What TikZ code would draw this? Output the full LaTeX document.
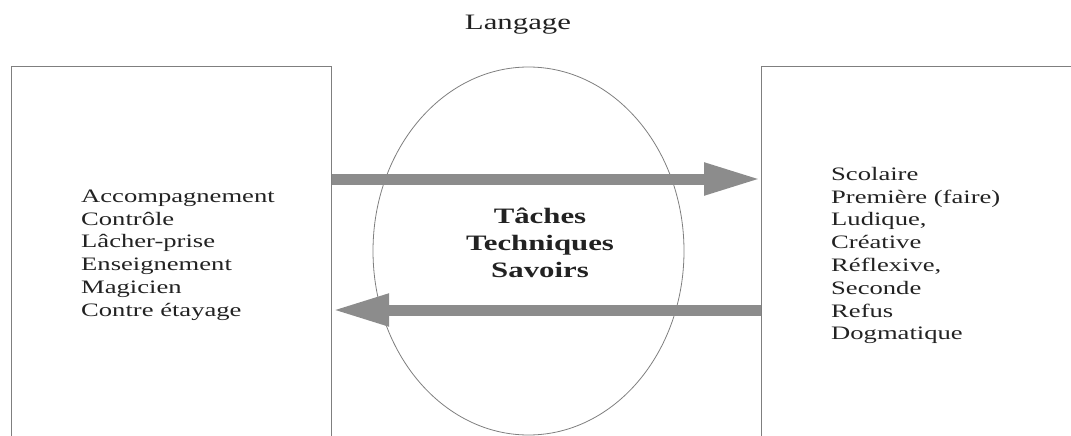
\documentclass[tikz,border=0pt]{standalone}
\usepackage{fontspec}
\setmainfont{Liberation Serif}[FakeStretch=1.4]
\usetikzlibrary{arrows.meta, shapes.geometric}
\definecolor{trait}{HTML}{7F7F7F}
\definecolor{fleche}{HTML}{8C8C8C}
\definecolor{texte}{HTML}{222222}
\tikzset{
    boite/.style={draw=trait, line width=1.2pt, rectangle, anchor=north west, inner sep=0pt},
    liste/.style={anchor=west, align=left, text=texte, inner sep=0pt, font=\fontsize{19}{22.8}\selectfont},
    grossefleche/.style={draw=fleche, line width=11pt, -{Triangle[length=57pt, width=30pt]}},
}
\begin{document}
\begin{tikzpicture}[x=1pt, y=-1pt]
    \clip (0,0) rectangle (1071,436);
    % titre
    \node[text=texte, font=\fontsize{22}{26}\selectfont] (langage) at (518,25) {Langage};
    % zone centrale
    \node[draw=trait, line width=0.8pt, ellipse, minimum width=311pt, minimum height=368pt, inner sep=0pt] (centre) at (528.5,251) {};
    \node[align=center, text=texte, font=\fontsize{22}{27}\selectfont\bfseries] (savoirs) at (540,243) {T\^aches\\Techniques\\Savoirs};
    % les deux cadres
    \node[boite, minimum width=320pt, minimum height=400pt] (gauche) at (11,66) {};
    \node[boite, minimum width=330pt, minimum height=400pt] (droite) at (761,66) {};
    \node[liste] (postures) at (81,255) {Accompagnement\\Contr\^ole\\L\^acher-prise\\Enseignement\\Magicien\\Contre \'etayage};
    \node[liste] (reponses) at (831,255.5) {Scolaire\\Premi\`ere (faire)\\Ludique,\\Cr\'eative\\R\'eflexive,\\Seconde\\Refus\\Dogmatique};
    % fleches
    \draw[grossefleche] (gauche.east |- 0,179) -- (droite.west |- 0,179);
    \draw[grossefleche] (droite.west |- 0,310) -- (gauche.east |- 0,310);
\end{tikzpicture}
\end{document}
